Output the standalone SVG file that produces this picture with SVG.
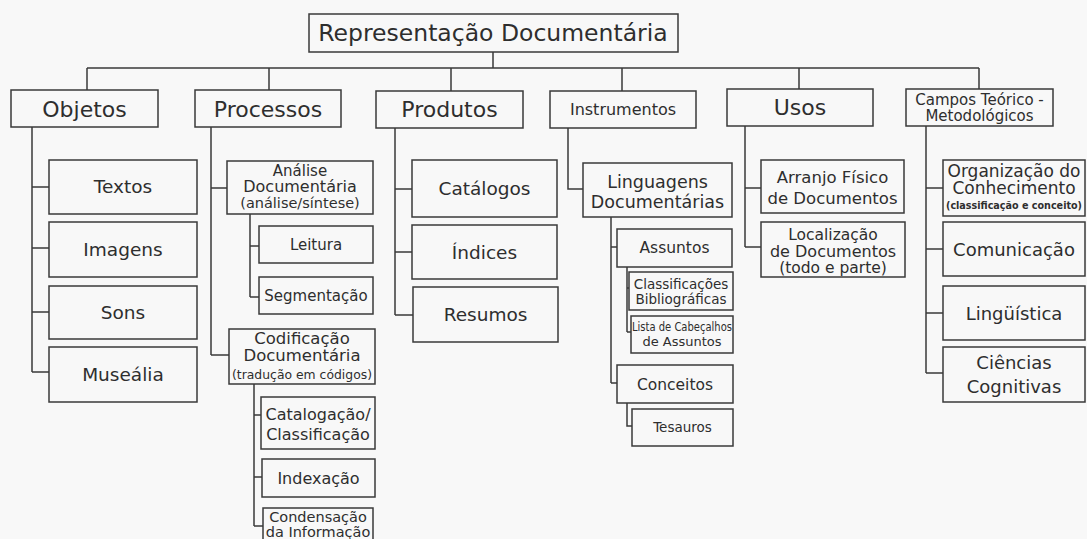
<svg xmlns="http://www.w3.org/2000/svg" width="1087" height="539" viewBox="0 0 1087 539">
<style>
.box{fill:none;stroke:#3a3a3a;stroke-width:1.5}
.ln{fill:none;stroke:#3a3a3a;stroke-width:1.5}
text{font-family:"DejaVu Sans",Verdana,sans-serif;fill:#2e2e2e;text-anchor:middle}
.l1{font-size:22px}
.l2{font-size:18.5px}
</style>
<rect x="0" y="0" width="1087" height="539" fill="#f8f8f8"/>
<g id="connectors">
<path class="ln" d="M493 52V68M87 68H979M87 68V90M269 68V90M451 68V91M622 68V91M799 68V89M979 68V89"/>
<path class="ln" d="M32 127V372M32 187H49M32 248H49M32 312H49M32 372H49"/>
<path class="ln" d="M211 127V355M211 188H227M211 355H229"/>
<path class="ln" d="M250 214V297M250 246H259M250 297H259"/>
<path class="ln" d="M254 384V526M254 415H261M254 477H262M254 526H263"/>
<path class="ln" d="M395 128V315M395 189H412M395 252H412M395 315H413"/>
<path class="ln" d="M568 128V189H583"/>
<path class="ln" d="M611 217V383M611 247H617M611 383H617"/>
<path class="ln" d="M627 267V332M627 288H629M627 332H631"/>
<path class="ln" d="M627 403V426H632"/>
<path class="ln" d="M745 126V247M745 188H761M745 247H761"/>
<path class="ln" d="M926 126V373M926 188H943M926 249H943M926 313H943M926 373H943"/>
</g>
<g id="root"><rect class="box" x="309" y="14" width="369" height="38"/><text x="493" y="41" font-size="23.5">Representação Documentária</text></g>
<g id="objetos"><rect class="box" x="11" y="90" width="147" height="37"/><text class="l1" x="84.5" y="116.5">Objetos</text></g>
<g id="processos"><rect class="box" x="195" y="90" width="146" height="37"/><text class="l1" x="268" y="116.5">Processos</text></g>
<g id="produtos"><rect class="box" x="376" y="91" width="147" height="37"/><text class="l1" x="449.5" y="117">Produtos</text></g>
<g id="instrumentos"><rect class="box" x="550" y="91" width="146" height="37"/><text x="623" y="115" font-size="16">Instrumentos</text></g>
<g id="usos"><rect class="box" x="727" y="89" width="146" height="37"/><text class="l1" x="800" y="115">Usos</text></g>
<g id="campos"><rect class="box" x="906" y="89" width="147" height="37"/><text x="979.5" y="105" font-size="15">Campos Teórico -</text><text x="979.5" y="121" font-size="15">Metodológicos</text></g>
<g id="textos"><rect class="box" x="49" y="160" width="148" height="54"/><text class="l2" x="123" y="193">Textos</text></g>
<g id="imagens"><rect class="box" x="49" y="222" width="148" height="55"/><text class="l2" x="123" y="256">Imagens</text></g>
<g id="sons"><rect class="box" x="49" y="286" width="148" height="53"/><text class="l2" x="123" y="319">Sons</text></g>
<g id="musealia"><rect class="box" x="49" y="347" width="148" height="55"/><text class="l2" x="123" y="381">Museália</text></g>
<g id="analise"><rect class="box" x="227" y="161" width="146" height="53"/><text x="300" y="175.5" font-size="15">Análise</text><text x="300" y="192" font-size="16">Documentária</text><text x="300" y="208" font-size="14.5">(análise/síntese)</text></g>
<g id="leitura"><rect class="box" x="259" y="226" width="114" height="37"/><text x="316" y="250" font-size="15">Leitura</text></g>
<g id="segmentacao"><rect class="box" x="259" y="277" width="114" height="37"/><text x="316" y="301" font-size="15">Segmentação</text></g>
<g id="codificacao"><rect class="box" x="229" y="329" width="146" height="55"/><text x="302" y="344" font-size="16.5">Codificação</text><text x="302" y="361" font-size="16.5">Documentária</text><text x="302" y="379" font-size="12.5" textLength="140" lengthAdjust="spacingAndGlyphs">(tradução em códigos)</text></g>
<g id="catalogacao"><rect class="box" x="261" y="397" width="114" height="52"/><text x="318" y="420" font-size="16">Catalogação/</text><text x="318" y="440" font-size="16">Classificação</text></g>
<g id="indexacao"><rect class="box" x="262" y="459" width="113" height="38"/><text x="318.5" y="484" font-size="16">Indexação</text></g>
<g id="condensacao"><rect class="box" x="263" y="508" width="110" height="40"/><text x="318" y="521.5" font-size="14.5">Condensação</text><text x="318" y="536.5" font-size="14.5">da Informação</text></g>
<g id="catalogos"><rect class="box" x="412" y="160" width="145" height="57"/><text class="l2" x="484.5" y="195">Catálogos</text></g>
<g id="indices"><rect class="box" x="412" y="225" width="145" height="54"/><text class="l2" x="484.5" y="258.5">Índices</text></g>
<g id="resumos"><rect class="box" x="413" y="287" width="145" height="55"/><text class="l2" x="485.5" y="321">Resumos</text></g>
<g id="linguagens"><rect class="box" x="583" y="163" width="149" height="54"/><text x="657.5" y="188" font-size="17.5">Linguagens</text><text x="657.5" y="208" font-size="17.5">Documentárias</text></g>
<g id="assuntos"><rect class="box" x="617" y="229" width="115" height="38"/><text x="674.5" y="253" font-size="15.5">Assuntos</text></g>
<g id="classificacoes"><rect class="box" x="629" y="272" width="104" height="38"/><text x="681" y="289" font-size="13.5">Classificações</text><text x="681" y="304" font-size="13.5">Bibliográficas</text></g>
<g id="lista"><rect class="box" x="631" y="316" width="102" height="37"/><text x="682" y="331" font-size="13" textLength="100" lengthAdjust="spacingAndGlyphs">Lista de Cabeçalhos</text><text x="682" y="346" font-size="13">de Assuntos</text></g>
<g id="conceitos"><rect class="box" x="617" y="365" width="116" height="38"/><text x="675" y="389.5" font-size="15.5">Conceitos</text></g>
<g id="tesauros"><rect class="box" x="632" y="409" width="101" height="37"/><text x="682.5" y="432" font-size="13.5">Tesauros</text></g>
<g id="arranjo"><rect class="box" x="761" y="160" width="143" height="53"/><text x="832.5" y="183" font-size="16.5">Arranjo Físico</text><text x="832.5" y="204" font-size="16.5">de Documentos</text></g>
<g id="localizacao"><rect class="box" x="761" y="222" width="144" height="55"/><text x="833" y="239.5" font-size="15.5">Localização</text><text x="833" y="256.5" font-size="16">de Documentos</text><text x="833" y="273" font-size="15.5">(todo e parte)</text></g>
<g id="organizacao"><rect class="box" x="943" y="160" width="142" height="56"/><text x="1014" y="177" font-size="17">Organização do</text><text x="1014" y="194" font-size="17">Conhecimento</text><text x="1014" y="209" font-size="10" font-weight="bold" textLength="136" lengthAdjust="spacingAndGlyphs">(classificação e conceito)</text></g>
<g id="comunicacao"><rect class="box" x="943" y="222" width="142" height="54"/><text x="1014" y="255.5" font-size="18">Comunicação</text></g>
<g id="linguistica"><rect class="box" x="943" y="286" width="142" height="54"/><text x="1014" y="319.5" font-size="18">Lingüística</text></g>
<g id="ciencias"><rect class="box" x="943" y="347" width="142" height="55"/><text x="1014" y="369" font-size="18">Ciências</text><text x="1014" y="393" font-size="18">Cognitivas</text></g>
</svg>
